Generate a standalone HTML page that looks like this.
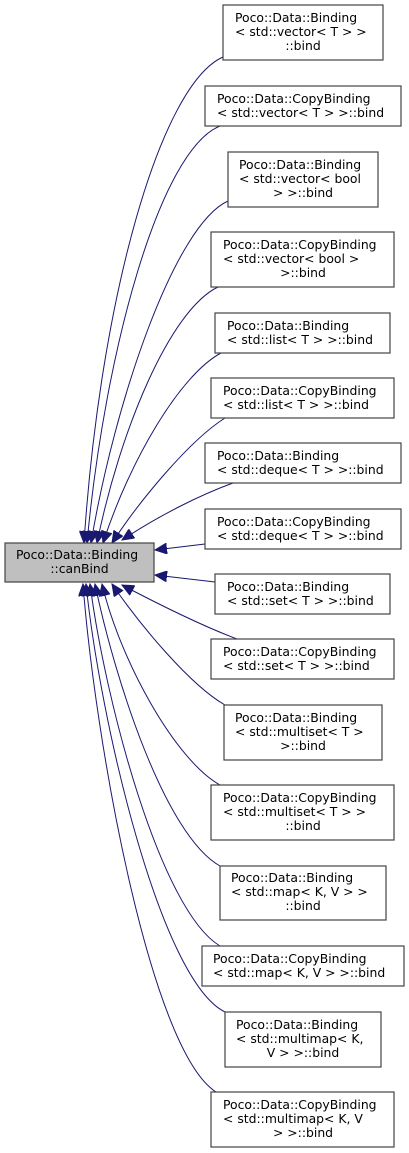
<!DOCTYPE html>
<html><head><meta charset="utf-8"><style>
body{margin:0;background:#fff}
svg{display:block}
text{font-family:"DejaVu Sans","Liberation Sans",sans-serif;font-size:12.4px;fill:#000}
rect{stroke:#444;stroke-width:1.2}
path{stroke:#191970;stroke-width:1;fill:none}
</style></head><body>
<svg width="409" height="1153" viewBox="0 0 409 1153" xmlns="http://www.w3.org/2000/svg">
<defs><marker id="a" markerWidth="13" markerHeight="11" refX="12" refY="5.5" orient="auto" markerUnits="userSpaceOnUse"><path d="M0,0 L12,5.5 L0,11 Z" style="fill:#191970;stroke:#191970"/></marker></defs>
<g>
<path marker-end="url(#a)" d="M223,57 C160,85 100,300 84,543"/>
<path marker-end="url(#a)" d="M220,126 C160,150 105,350 87,543"/>
<path marker-end="url(#a)" d="M228,201 C175,225 115,400 91,543"/>
<path marker-end="url(#a)" d="M218,287 C170,310 120,430 97,543"/>
<path marker-end="url(#a)" d="M221,353 C180,375 130,460 103,543"/>
<path marker-end="url(#a)" d="M225,418 C190,440 140,500 112,543"/>
<path marker-end="url(#a)" d="M233,483 C200,495 160,515 122,540"/>
<path marker-end="url(#a)" d="M205,544 L155,550"/>
<path marker-end="url(#a)" d="M215,582 L155,575"/>
<path marker-end="url(#a)" d="M237,639 C200,625 160,605 122,585"/>
<path marker-end="url(#a)" d="M225,705 C190,685 140,625 112,584"/>
<path marker-end="url(#a)" d="M220,785 C175,760 120,660 102,584"/>
<path marker-end="url(#a)" d="M220,866 C165,835 115,680 95,584"/>
<path marker-end="url(#a)" d="M220,946 C160,910 105,700 90,584"/>
<path marker-end="url(#a)" d="M225,1012 C160,980 100,720 86,584"/>
<path marker-end="url(#a)" d="M216,1092 C150,1050 95,740 83,584"/>
</g>
<rect x="5" y="543" width="149" height="39" fill="#bfbfbf"/>
<text x="16" y="559">Poco::Data::Binding</text>
<text x="79.5" y="573" text-anchor="middle">::canBind</text>
<g fill="#fff">
<rect x="223" y="5" width="160" height="55"/>
<rect x="205" y="86" width="196" height="40"/>
<rect x="228" y="152" width="150" height="55"/>
<rect x="211" y="232" width="183" height="55"/>
<rect x="215" y="313" width="175" height="40"/>
<rect x="211" y="378" width="183" height="40"/>
<rect x="205" y="443" width="196" height="40"/>
<rect x="205" y="509" width="196" height="40"/>
<rect x="215" y="574" width="175" height="40"/>
<rect x="211" y="639" width="183" height="40"/>
<rect x="224" y="705" width="158" height="55"/>
<rect x="211" y="785" width="183" height="55"/>
<rect x="220" y="866" width="166" height="54"/>
<rect x="202" y="946" width="202" height="40"/>
<rect x="225" y="1012" width="156" height="55"/>
<rect x="211" y="1092" width="183" height="55"/>
</g>
<text x="235" y="22">Poco::Data::Binding</text><text x="235" y="36">&lt; std::vector&lt; T &gt; &gt;</text><text x="303" y="50" text-anchor="middle">::bind</text>
<text x="217" y="103">Poco::Data::CopyBinding</text><text x="217" y="117">&lt; std::vector&lt; T &gt; &gt;::bind</text>
<text x="239" y="169">Poco::Data::Binding</text><text x="239" y="183">&lt; std::vector&lt; bool</text><text x="303" y="197" text-anchor="middle">&gt; &gt;::bind</text>
<text x="223" y="249">Poco::Data::CopyBinding</text><text x="223" y="263">&lt; std::vector&lt; bool &gt;</text><text x="303" y="277" text-anchor="middle">&gt;::bind</text>
<text x="227" y="330">Poco::Data::Binding</text><text x="227" y="344">&lt; std::list&lt; T &gt; &gt;::bind</text>
<text x="223" y="395">Poco::Data::CopyBinding</text><text x="223" y="409">&lt; std::list&lt; T &gt; &gt;::bind</text>
<text x="217" y="460">Poco::Data::Binding</text><text x="217" y="474">&lt; std::deque&lt; T &gt; &gt;::bind</text>
<text x="217" y="526">Poco::Data::CopyBinding</text><text x="217" y="540">&lt; std::deque&lt; T &gt; &gt;::bind</text>
<text x="227" y="591">Poco::Data::Binding</text><text x="227" y="605">&lt; std::set&lt; T &gt; &gt;::bind</text>
<text x="223" y="656">Poco::Data::CopyBinding</text><text x="223" y="670">&lt; std::set&lt; T &gt; &gt;::bind</text>
<text x="235" y="722">Poco::Data::Binding</text><text x="235" y="736">&lt; std::multiset&lt; T &gt;</text><text x="303" y="750" text-anchor="middle">&gt;::bind</text>
<text x="223" y="802">Poco::Data::CopyBinding</text><text x="223" y="816">&lt; std::multiset&lt; T &gt; &gt;</text><text x="303" y="830" text-anchor="middle">::bind</text>
<text x="231" y="882">Poco::Data::Binding</text><text x="231" y="896">&lt; std::map&lt; K, V &gt; &gt;</text><text x="303" y="910" text-anchor="middle">::bind</text>
<text x="213" y="963">Poco::Data::CopyBinding</text><text x="213" y="977">&lt; std::map&lt; K, V &gt; &gt;::bind</text>
<text x="236" y="1029">Poco::Data::Binding</text><text x="236" y="1043">&lt; std::multimap&lt; K,</text><text x="303" y="1057" text-anchor="middle">V &gt; &gt;::bind</text>
<text x="223" y="1109">Poco::Data::CopyBinding</text><text x="223" y="1123">&lt; std::multimap&lt; K, V</text><text x="303" y="1137" text-anchor="middle">&gt; &gt;::bind</text>
</svg>
</body></html>
